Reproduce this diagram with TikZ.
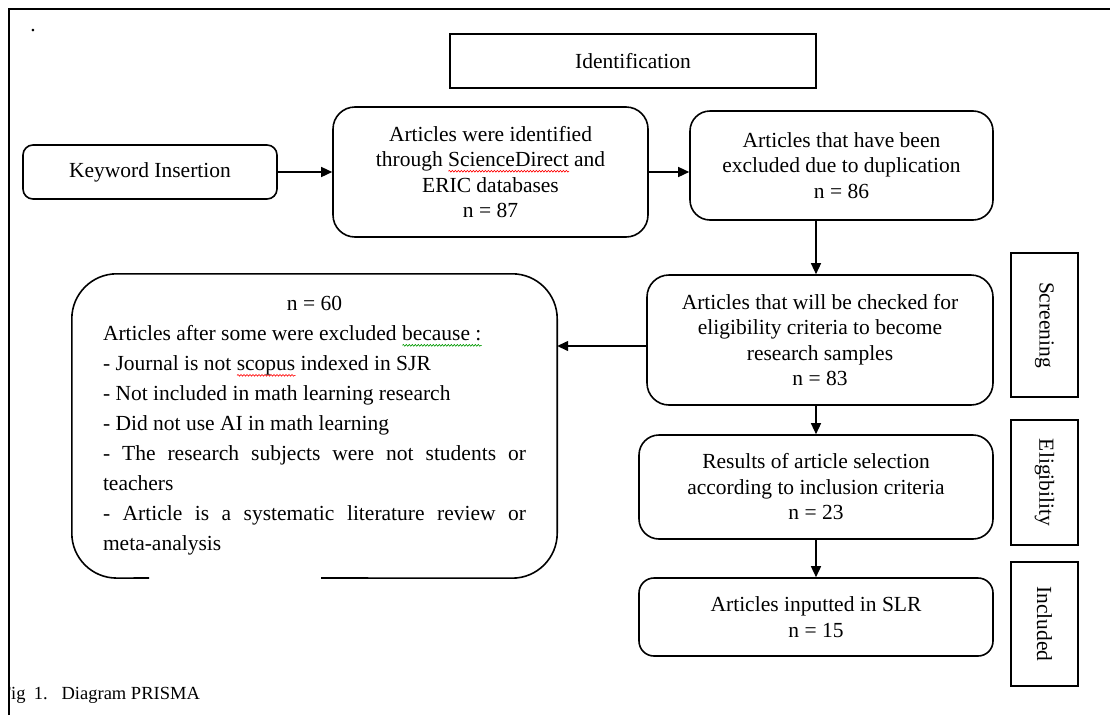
\documentclass[tikz,border=0pt]{standalone}
\usepackage{fontspec}
\setmainfont{Liberation Serif}
\usetikzlibrary{arrows.meta,decorations.pathmorphing}
\hyphenpenalty=10000
\exhyphenpenalty=10000
\newlength\sqlen
\newcommand\squig[2]{\settowidth\sqlen{#2}\rlap{\raisebox{-4.5pt}{\tikz[x=1pt,y=1pt,baseline=0pt]\draw[#1,sharp corners,line width=0.6pt,decorate,decoration={snake,amplitude=0.9pt,segment length=3pt}] (0,0) -- (\sqlen,0);}}#2}
\tikzset{
  rbox/.style={draw, line width=1.6pt, rounded corners=#1},
  sbox/.style={draw, line width=1.6pt, rotate=-90},
  arr/.style={-{Triangle[length=11pt,width=10pt]}, line width=1.4pt},
}
\begin{document}
\begin{tikzpicture}[x=1pt,y=-1pt,
  every node/.style={font=\fontsize{21.5}{25.5}\selectfont, inner sep=0pt, align=center, text=black}]
\useasboundingbox (0,0) rectangle (1110,715);
% frame
\draw[line width=2.5pt] (9,715) -- (9,9) -- (1110,9);
\node[anchor=base] (dot) at (33,31) {.};
% boxes
\node[draw, line width=1.8pt, minimum width=366pt, minimum height=54pt] (ident) at (633,61) {Identification};
\node[rbox=10pt, minimum width=254pt, minimum height=54pt] (kw) at (150,172) {Keyword Insertion};
\node[rbox=22pt, minimum width=315pt, minimum height=130pt] (ids) at (490.5,172)
  {Articles were identified\\ through \squig{red}{ScienceDirect} and\\ ERIC databases\\ n = 87};
\node[rbox=20pt, minimum width=303pt, minimum height=109pt] (dup) at (841.5,165.5)
  {Articles that have been\\ excluded due to duplication\\ n = 86};
\node[rbox=22pt, minimum width=346pt, minimum height=130pt] (chk) at (820,340)
  {Articles that will be checked for\\ eligibility criteria to become\\ research samples\\ n = 83};
\node[rbox=20pt, minimum width=354pt, minimum height=104pt] (res) at (816,487)
  {Results of article selection\\ according to inclusion criteria\\ n = 23};
\node[rbox=15pt, minimum width=354pt, minimum height=78pt] (inp) at (816,617)
  {Articles inputted in SLR\\ n = 15};
\node[sbox, minimum width=144pt, minimum height=67pt] (scr) at (1044.5,325) {Screening};
\node[sbox, minimum width=125pt, minimum height=67pt] (eli) at (1044.5,482.5) {Eligibility};
\node[sbox, minimum width=124pt, minimum height=67pt] (inc) at (1044.5,624) {Included};
\node[minimum width=485pt, minimum height=304pt, text width=423pt, align=justify,
  font={\fontsize{21.5}{30}\selectfont}] (excl) at (314.5,426)
  {\makebox[\linewidth]{n = 60}\\
   Articles after some were excluded \squig{green!60!black}{because :}\\
   - Journal is not \squig{red}{scopus} indexed in SJR\\
   - Not included in math learning research\\
   - Did not use AI in math learning\\
   - The research subjects were not students or teachers\\
   - Article is a systematic literature review or \mbox{meta-analysis}};
\draw[line width=1.6pt, rounded corners=45pt] (149,578) -- (excl.south west) -- (excl.north west)
  -- (excl.north east) -- (excl.south east) -- (321,578);
% connectors
\draw[arr] (kw.east) -- (ids.west);
\draw[arr] (ids.east) -- (ids.east -| dup.west);
\draw[arr] (dup.south -| res.north) -- (chk.north -| res.north);
\draw[arr] (chk.south -| res.north) -- (res.north);
\draw[arr] (res.south) -- (inp.north);
\draw[arr] ([yshift=-6pt]chk.west) -- ([yshift=-6pt]chk.west -| excl.east);
% caption
\begin{scope}
\clip (10.3,650) rectangle (500,715);
\node[anchor=base west, font=\fontsize{18.5}{20}\selectfont] (cap) at (0.7,699) {Fig\hspace{0.45em}1.\hspace{0.75em}Diagram PRISMA};
\end{scope}
\end{tikzpicture}
\end{document}
